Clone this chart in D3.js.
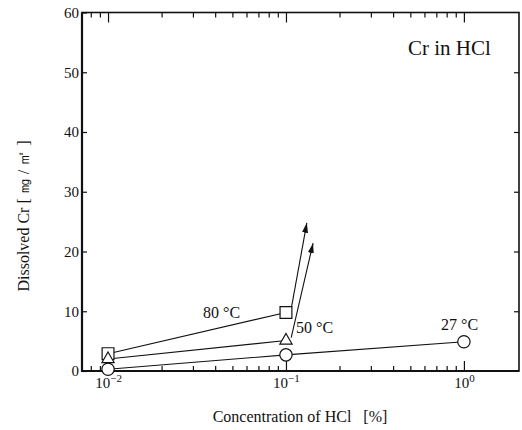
<!DOCTYPE html>
<html>
<head>
<meta charset="utf-8">
<script src="https://cdn.jsdelivr.net/npm/d3@7"></script>
<style>
  body { margin: 0; background: #fff; }
  svg { display: block; }
  text { font-family: "Liberation Serif", "Times New Roman", serif; fill: #111; }
</style>
</head>
<body>
<svg id="chart"></svg>
<script>
// data
const concentrations = [0.01, 0.1, 1];
const cr27 = [0.3, 2.7, 4.9];
const cr50 = [2.0, 5.1];
const cr80 = [2.9, 9.8];
// arrows leaving the 0.1 % points (start, end) as [conc, value]
const arrows50 = [[0.107, 5.6], [0.142, 21.4]];
const arrows80 = [[0.107, 10.4], [0.131, 24.8]];

const seriesLabels = ['27 °C', '50 °C', '80 °C'];
const yTicks = [0, 10, 20, 30, 40, 50, 60];
const xMajorTicks = [0.01, 0.1, 1];
const xMajorLabels = ['-2', '-1', '0'];
const xMinorTicks = [0.008, 0.009, 0.02, 0.03, 0.04, 0.05, 0.06, 0.07, 0.08, 0.09,
  0.2, 0.3, 0.4, 0.5, 0.6, 0.7, 0.8, 0.9];

const width = 522, height = 430;
const svg = d3.select('#chart').attr('width', width).attr('height', height);

const x = d3.scaleLog().domain([0.00714, 2.04]).range([82, 519]);
const y = d3.scaleLinear().domain([0, 60]).range([371, 12.5]);

// minor ticks, bottom and top
svg.append('g')
  .attr('transform', `translate(0,${y(0)})`)
  .call(d3.axisBottom(x).tickValues(xMinorTicks).tickSize(-5).tickFormat(''))
  .call(g => g.select('.domain').remove());
svg.append('g')
  .attr('transform', `translate(0,${y(60)})`)
  .call(d3.axisTop(x).tickValues(xMinorTicks).tickSize(-5).tickFormat(''))
  .call(g => g.select('.domain').remove());

// major ticks
const xBottom = svg.append('g')
  .attr('transform', `translate(0,${y(0)})`)
  .call(d3.axisBottom(x).tickValues(xMajorTicks).tickSizeInner(-10).tickSizeOuter(0).tickFormat(''))
  .call(g => g.select('.domain').remove());
svg.append('g')
  .attr('transform', `translate(0,${y(60)})`)
  .call(d3.axisTop(x).tickValues(xMajorTicks).tickSizeInner(-10).tickSizeOuter(0).tickFormat(''))
  .call(g => g.select('.domain').remove());

// x tick labels 10^n
xBottom.selectAll('.tick').each(function (d, i) {
  const t = d3.select(this).append('text')
    .attr('y', 17)
    .attr('text-anchor', 'middle')
    .attr('font-size', 15)
    .attr('fill', '#111');
  t.append('tspan').text('10');
  t.append('tspan').attr('dy', -6).attr('font-size', 11).text(xMajorLabels[i].replace('-', '−'));
});

// y axes
svg.append('g')
  .attr('transform', `translate(${x.range()[0]},0)`)
  .call(d3.axisLeft(y).tickValues(yTicks).tickSize(-5).tickPadding(3))
  .call(g => g.select('.domain').remove())
  .call(g => g.selectAll('text').attr('font-size', 15).attr('fill', '#111')
    .attr('font-family', '"Liberation Serif", serif'));
svg.append('g')
  .attr('transform', `translate(${x.range()[1]},0)`)
  .call(d3.axisRight(y).tickValues(yTicks.slice(1, -1)).tickSize(-5).tickFormat(''))
  .call(g => g.select('.domain').remove());

svg.selectAll('.tick line').attr('stroke', '#111').attr('stroke-width', 1.2);

// frame
svg.append('rect')
  .attr('x', x.range()[0]).attr('y', y(60))
  .attr('width', x.range()[1] - x.range()[0])
  .attr('height', y(0) - y(60))
  .attr('fill', 'none').attr('stroke', '#111').attr('stroke-width', 1.6);
svg.append('path')
  .attr('d', `M${x.range()[0]},${y(60)}V${y(0)}H${x.range()[1]}`)
  .attr('fill', 'none').attr('stroke', '#111').attr('stroke-width', 2.2);

// arrowhead
svg.append('defs').append('marker')
  .attr('id', 'head')
  .attr('viewBox', '0 -3 10 6')
  .attr('refX', 10).attr('refY', 0)
  .attr('markerWidth', 10).attr('markerHeight', 6)
  .attr('markerUnits', 'userSpaceOnUse')
  .attr('orient', 'auto')
  .append('path').attr('d', 'M0,-3L10,0L0,3Z').attr('fill', '#111');

const line = d3.line().x(d => x(d[0])).y(d => y(d[1]));

// drawn 80 -> 50 -> 27 so lower markers sit on top, like the original
const series = [
  { vals: cr80, sym: d3.symbolSquare, size: 140 },
  { vals: cr50, sym: d3.symbolTriangle, size: 64 },
  { vals: cr27, sym: d3.symbolCircle, size: 120 }
];

series.forEach(s => {
  svg.append('path')
    .datum(s.vals.map((v, i) => [concentrations[i], v]))
    .attr('d', line)
    .attr('fill', 'none').attr('stroke', '#111').attr('stroke-width', 1.1);
});

[arrows50, arrows80].forEach(a => {
  svg.append('path')
    .datum(a)
    .attr('d', line)
    .attr('fill', 'none').attr('stroke', '#111').attr('stroke-width', 1.1)
    .attr('marker-end', 'url(#head)');
});

series.forEach(s => {
  svg.append('g').selectAll('path')
    .data(s.vals)
    .join('path')
    .attr('transform', (v, i) => `translate(${x(concentrations[i])},${y(v)})`)
    .attr('d', d3.symbol(s.sym, s.size))
    .attr('fill', '#fff').attr('stroke', '#111').attr('stroke-width', 1.2);
});

// series labels
const labelPos = [[441, 330], [296, 333], [203, 318]];
svg.append('g').selectAll('text')
  .data(seriesLabels)
  .join('text')
  .attr('x', (d, i) => labelPos[i][0])
  .attr('y', (d, i) => labelPos[i][1])
  .attr('font-size', 16)
  .text(d => d);

svg.append('text')
  .attr('x', 408).attr('y', 55)
  .attr('font-size', 21)
  .text('Cr in HCl');

svg.append('text')
  .attr('x', 300).attr('y', 422)
  .attr('text-anchor', 'middle')
  .attr('font-size', 16)
  .attr('xml:space', 'preserve')
  .text('Concentration of HCl   [%]');

svg.append('text')
  .attr('transform', 'translate(29,216) rotate(-90)')
  .attr('text-anchor', 'middle')
  .attr('font-size', 16)
  .text('Dissolved Cr [ ㎎ / ㎡ ]');
</script>
</body>
</html>
